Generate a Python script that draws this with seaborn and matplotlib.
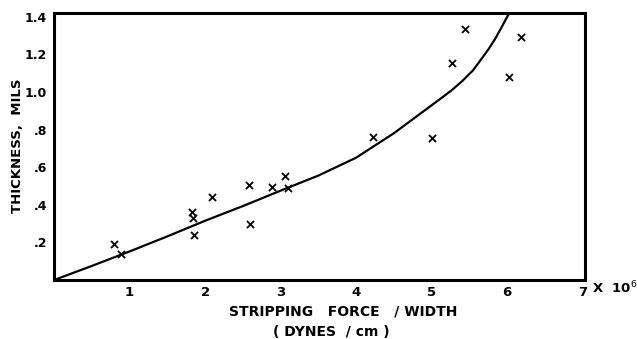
import matplotlib
matplotlib.use("Agg")
import matplotlib.pyplot as plt
import seaborn as sns
import pandas as pd

# measured points (stripping force/width in 1e6 dynes/cm, thickness in mils)
force = [0.79, 0.89, 1.83, 1.84, 1.85, 2.09, 2.58, 2.60, 2.89, 3.06, 3.10, 4.23, 5.00, 5.27, 5.44, 6.03, 6.19]
thickness = [0.19, 0.138, 0.36, 0.33, 0.24, 0.44, 0.505, 0.30, 0.494, 0.552, 0.489, 0.76, 0.754, 1.152, 1.333, 1.078, 1.29]

# fitted curve
curve_x = [0, 0.5, 1.0, 1.5, 2.0, 2.5, 3.0, 3.5, 4.0, 4.5, 4.87, 5.14, 5.27, 5.40, 5.55, 5.67, 5.76, 5.84, 5.93, 6.03]
curve_y = [0, 0.075, 0.152, 0.232, 0.315, 0.393, 0.475, 0.555, 0.65, 0.78, 0.89, 0.97, 1.01, 1.055, 1.115, 1.18, 1.23, 1.28, 1.345, 1.42]

x_ticks = [1, 2, 3, 4, 5, 6, 7]
x_tick_labels = ["1", "2", "3", "4", "5", "6", "7"]
y_ticks = [0.2, 0.4, 0.6, 0.8, 1.0, 1.2, 1.4]
y_tick_labels = [".2", ".4", ".6", ".8", "1.0", "1.2", "1.4"]

sns.set_style("white")
plt.rcParams['font.family'] = ['DejaVu Sans']
plt.rcParams['text.color'] = 'black'
plt.rcParams['xtick.color'] = 'black'
plt.rcParams['ytick.color'] = 'black'

fig = plt.figure(figsize=(6.37, 3.39), dpi=100)
ax = fig.add_axes([0.085, 0.174, 0.833, 0.788])

pts = pd.DataFrame({"force": force, "thickness": thickness})
crv = pd.DataFrame({"x": curve_x, "y": curve_y})

sns.lineplot(data=crv, x="x", y="y", sort=False, color="black", linewidth=1.6, ax=ax)
sns.scatterplot(data=pts, x="force", y="thickness", marker="x", color="black",
                s=26, linewidth=1.3, ax=ax)

ax.set_xlim(0, 7.03)
ax.set_ylim(0, 1.42)
ax.set_xticks(x_ticks)
ax.set_xticklabels(x_tick_labels, fontsize=9.5, fontweight="bold", color="black")
ax.set_yticks(y_ticks)
ax.set_yticklabels(y_tick_labels, fontsize=9, fontweight="bold", color="black")
ax.tick_params(axis="x", length=0, pad=4)
ax.tick_params(axis="y", length=0, pad=5)
for s in ax.spines.values():
    s.set_linewidth(2.2)
    s.set_color("black")

ax.set_xlabel("")
ax.set_ylabel("")
fig.text(0.027, 0.57, "THICKNESS,  MILS", rotation=90, ha="center", va="center",
         fontsize=9.5, fontweight="bold", color="black")

fig.text(0.539, 0.080, "STRIPPING   FORCE   / WIDTH", ha="center", va="center",
         fontsize=10, fontweight="bold", color="black")
fig.text(0.52, 0.022, "( DYNES  / cm )", ha="center", va="center",
         fontsize=10, fontweight="bold", color="black")
fig.text(0.929, 0.150, "X  10$^{6}$", ha="left", va="center",
         fontsize=9.5, fontweight="bold", color="black")

fig.savefig("out.png", dpi=100)
